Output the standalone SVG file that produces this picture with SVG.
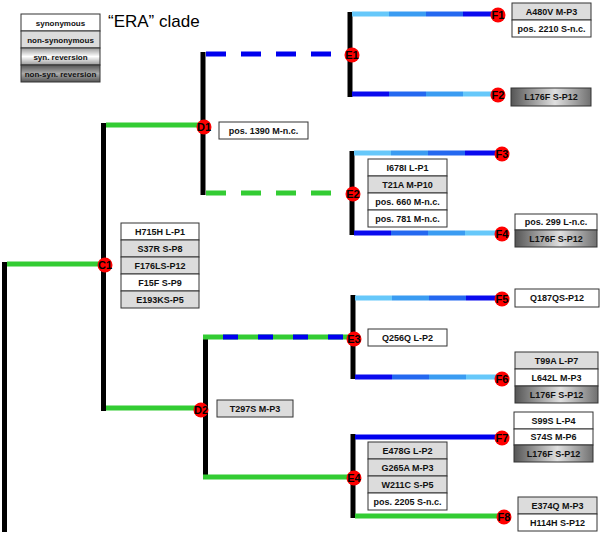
<svg xmlns="http://www.w3.org/2000/svg" width="600" height="534" viewBox="0 0 600 534">
<defs>
<style>
.v{stroke:#000;stroke-width:5;fill:none}
.g{stroke:#33cc33;stroke-width:5;fill:none}
.b{stroke:#0000ee;stroke-width:5;fill:none}
.dash{stroke-dasharray:20 15}
.bx{stroke:#333;stroke-width:1}
.w{fill:#fff}
.gr{fill:#dcdcdc}
.t{font-family:"Liberation Sans",Arial,sans-serif;font-weight:bold;font-size:9px;fill:#111;text-anchor:middle}
.lt{font-family:"Liberation Sans",Arial,sans-serif;font-weight:bold;font-size:8px;fill:#111;text-anchor:middle}
.n{fill:#ff0000}
.nl{font-family:"Liberation Sans",Arial,sans-serif;font-weight:bold;font-size:11px;fill:#000;text-anchor:middle}
</style>
<linearGradient id="up" x1="0" y1="0" x2="1" y2="0">
<stop offset="0" stop-color="#66c8fa"/><stop offset="0.25" stop-color="#66c8fa"/>
<stop offset="0.25" stop-color="#3a9cf2"/><stop offset="0.5" stop-color="#3a9cf2"/>
<stop offset="0.5" stop-color="#2468f0"/><stop offset="0.75" stop-color="#2468f0"/>
<stop offset="0.75" stop-color="#0a0aee"/><stop offset="1" stop-color="#0a0aee"/>
</linearGradient>
<linearGradient id="down" x1="1" y1="0" x2="0" y2="0">
<stop offset="0" stop-color="#66c8fa"/><stop offset="0.25" stop-color="#66c8fa"/>
<stop offset="0.25" stop-color="#3a9cf2"/><stop offset="0.5" stop-color="#3a9cf2"/>
<stop offset="0.5" stop-color="#2468f0"/><stop offset="0.75" stop-color="#2468f0"/>
<stop offset="0.75" stop-color="#0a0aee"/><stop offset="1" stop-color="#0a0aee"/>
</linearGradient>
<linearGradient id="nsr" x1="0" y1="0" x2="1" y2="0">
<stop offset="0" stop-color="#555"/><stop offset="0.55" stop-color="#e0e0e0"/><stop offset="1" stop-color="#707070"/>
</linearGradient>
<linearGradient id="sr" x1="0" y1="0" x2="0" y2="1">
<stop offset="0" stop-color="#999"/><stop offset="0.5" stop-color="#fff"/><stop offset="1" stop-color="#999"/>
</linearGradient>
<linearGradient id="nsrL" x1="0" y1="0" x2="0" y2="1">
<stop offset="0" stop-color="#555"/><stop offset="0.5" stop-color="#aaa"/><stop offset="1" stop-color="#555"/>
</linearGradient>
</defs>
<rect width="600" height="534" fill="#fff"/>

<g id="legend">
<rect class="bx w" x="21" y="14" width="79" height="17"/><text class="lt" x="60.5" y="25.5">synonymous</text>
<rect class="bx gr" x="21" y="31" width="79" height="17"/><text class="lt" x="60.5" y="42.5">non-synonymous</text>
<rect class="bx" fill="url(#sr)" x="21" y="48" width="79" height="17"/><text class="lt" x="60.5" y="59.5">syn. reversion</text>
<rect class="bx" fill="url(#nsrL)" x="21" y="65" width="79" height="17"/><text class="lt" x="60.5" y="76.5">non-syn. reversion</text>
<text x="108" y="27" font-family="Liberation Sans,Arial,sans-serif" font-size="17" fill="#000">“ERA” clade</text>
</g>

<g id="connectors">
<line class="v" x1="4.5" y1="262" x2="4.5" y2="532"/>
<line class="v" x1="103.5" y1="123" x2="103.5" y2="411"/>
<line class="v" x1="203" y1="52" x2="203" y2="195"/>
<line class="v" x1="205.5" y1="335" x2="205.5" y2="479"/>
<line class="v" x1="350" y1="12" x2="350" y2="97"/>
<line class="v" x1="352" y1="151" x2="352" y2="235"/>
<line class="v" x1="353" y1="295" x2="353" y2="379"/>
<line class="v" x1="353" y1="434" x2="353" y2="518"/>
<line class="g" x1="7" y1="264" x2="103" y2="264"/>
<line class="g" x1="106" y1="125" x2="203" y2="125"/>
<line class="g" x1="106" y1="408" x2="205" y2="408"/>
<line class="b dash" x1="206" y1="54" x2="350" y2="54"/>
<line class="g dash" x1="206" y1="193" x2="352" y2="193"/>
<line class="g" x1="203" y1="337" x2="353" y2="337"/>
<line class="b" x1="223" y1="337" x2="353" y2="337" stroke-dasharray="15 20"/>
<line class="g" x1="203" y1="477" x2="353" y2="477"/>
<rect x="352" y="11.5" width="148" height="5" fill="url(#up)"/>
<rect x="352" y="91.5" width="148" height="5" fill="url(#down)"/>
<rect x="354" y="150.5" width="148" height="5" fill="url(#up)"/>
<rect x="354" y="230.5" width="148" height="5" fill="url(#down)"/>
<rect x="355" y="295.5" width="148" height="5" fill="url(#up)"/>
<rect x="355" y="374.5" width="148" height="5" fill="url(#down)"/>
<line class="b" x1="355" y1="437" x2="502" y2="437"/>
<line class="g" x1="355" y1="516" x2="504" y2="516"/>
</g>

<g id="C1">
<circle class="n" cx="105" cy="265" r="7.5"/><text class="nl" x="105" y="269">C1</text>
<rect class="bx w" x="121" y="223" width="78" height="17"/><text class="t" x="160" y="234.5">H715H L-P1</text>
<rect class="bx gr" x="121" y="240" width="78" height="17"/><text class="t" x="160" y="251.5">S37R S-P8</text>
<rect class="bx gr" x="121" y="257" width="78" height="17"/><text class="t" x="160" y="268.5">F176LS-P12</text>
<rect class="bx w" x="121" y="274" width="78" height="17"/><text class="t" x="160" y="285.5">F15F S-P9</text>
<rect class="bx gr" x="121" y="291" width="78" height="17"/><text class="t" x="160" y="302.5">E193KS-P5</text>
</g>

<g id="D1">
<circle class="n" cx="204" cy="127" r="7.5"/><text class="nl" x="204" y="131">D1</text>
<rect class="bx w" x="219" y="122" width="89" height="17"/><text class="t" x="263.5" y="133.5">pos. 1390 M-n.c.</text>
</g>

<g id="D2">
<circle class="n" cx="201" cy="410" r="7.5"/><text class="nl" x="201" y="414">D2</text>
<rect class="bx gr" x="217" y="400" width="76" height="17"/><text class="t" x="255" y="411.5">T297S M-P3</text>
</g>

<g id="E1">
<circle class="n" cx="352" cy="55" r="7.5"/><text class="nl" x="352" y="59">E1</text>
</g>

<g id="E2">
<circle class="n" cx="353" cy="194" r="7.5"/><text class="nl" x="353" y="198">E2</text>
<rect class="bx w" x="368" y="159" width="79" height="17"/><text class="t" x="407.5" y="170.5">I678I L-P1</text>
<rect class="bx gr" x="368" y="176" width="79" height="17"/><text class="t" x="407.5" y="187.5">T21A M-P10</text>
<rect class="bx w" x="368" y="193" width="79" height="17"/><text class="t" x="407.5" y="204.5">pos. 660 M-n.c.</text>
<rect class="bx w" x="368" y="210" width="79" height="17"/><text class="t" x="407.5" y="221.5">pos. 781 M-n.c.</text>
</g>

<g id="E3">
<circle class="n" cx="354" cy="339" r="7.5"/><text class="nl" x="354" y="343">E3</text>
<rect class="bx w" x="368" y="329" width="79" height="17"/><text class="t" x="407.5" y="340.5">Q256Q L-P2</text>
</g>

<g id="E4">
<circle class="n" cx="354" cy="478" r="7.5"/><text class="nl" x="354" y="482">E4</text>
<rect class="bx gr" x="368" y="442" width="79" height="17"/><text class="t" x="407.5" y="453.5">E478G L-P2</text>
<rect class="bx gr" x="368" y="459" width="79" height="17"/><text class="t" x="407.5" y="470.5">G265A M-P3</text>
<rect class="bx gr" x="368" y="476" width="79" height="17"/><text class="t" x="407.5" y="487.5">W211C S-P5</text>
<rect class="bx w" x="368" y="493" width="79" height="17"/><text class="t" x="407.5" y="504.5">pos. 2205 S-n.c.</text>
</g>

<g id="F1">
<circle class="n" cx="498" cy="15" r="7.5"/><text class="nl" x="498" y="19">F1</text>
<rect class="bx gr" x="512" y="3" width="79" height="17"/><text class="t" x="551.5" y="14.5">A480V M-P3</text>
<rect class="bx w" x="512" y="20" width="79" height="17"/><text class="t" x="551.5" y="31.5">pos. 2210 S-n.c.</text>
</g>

<g id="F2">
<circle class="n" cx="498" cy="95" r="7.5"/><text class="nl" x="498" y="99">F2</text>
<rect class="bx" fill="url(#nsr)" x="511" y="88" width="80" height="18"/><text class="t" x="551" y="100">L176F S-P12</text>
</g>

<g id="F3">
<circle class="n" cx="502" cy="154" r="7.5"/><text class="nl" x="502" y="158">F3</text>
</g>

<g id="F4">
<circle class="n" cx="502" cy="234" r="7.5"/><text class="nl" x="502" y="238">F4</text>
<rect class="bx w" x="515" y="214" width="82" height="16"/><text class="t" x="556" y="225">pos. 299 L-n.c.</text>
<rect class="bx" fill="url(#nsr)" x="515" y="230" width="82" height="17"/><text class="t" x="556" y="241.5">L176F S-P12</text>
</g>

<g id="F5">
<circle class="n" cx="502" cy="299" r="7.5"/><text class="nl" x="502" y="303">F5</text>
<rect class="bx w" x="515" y="289" width="84" height="18"/><text class="t" x="557" y="301">Q187QS-P12</text>
</g>

<g id="F6">
<circle class="n" cx="502" cy="379" r="7.5"/><text class="nl" x="502" y="383">F6</text>
<rect class="bx gr" x="515" y="352" width="83" height="17"/><text class="t" x="556.5" y="363.5">T99A L-P7</text>
<rect class="bx w" x="515" y="369" width="83" height="17"/><text class="t" x="556.5" y="380.5">L642L M-P3</text>
<rect class="bx" fill="url(#nsr)" x="515" y="386" width="83" height="17"/><text class="t" x="556.5" y="397.5">L176F S-P12</text>
</g>

<g id="F7">
<circle class="n" cx="502" cy="438" r="7.5"/><text class="nl" x="502" y="442">F7</text>
<rect class="bx w" x="514" y="412" width="79" height="17"/><text class="t" x="553.5" y="423.5">S99S L-P4</text>
<rect class="bx w" x="514" y="429" width="79" height="16"/><text class="t" x="553.5" y="440">S74S M-P6</text>
<rect class="bx" fill="url(#nsr)" x="514" y="445" width="79" height="17"/><text class="t" x="553.5" y="456.5">L176F S-P12</text>
</g>

<g id="F8">
<circle class="n" cx="504" cy="517" r="7.5"/><text class="nl" x="504" y="521">F8</text>
<rect class="bx gr" x="518" y="497" width="79" height="17"/><text class="t" x="557.5" y="508.5">E374Q M-P3</text>
<rect class="bx w" x="518" y="514" width="79" height="17"/><text class="t" x="557.5" y="525.5">H114H S-P12</text>
</g>
</svg>
